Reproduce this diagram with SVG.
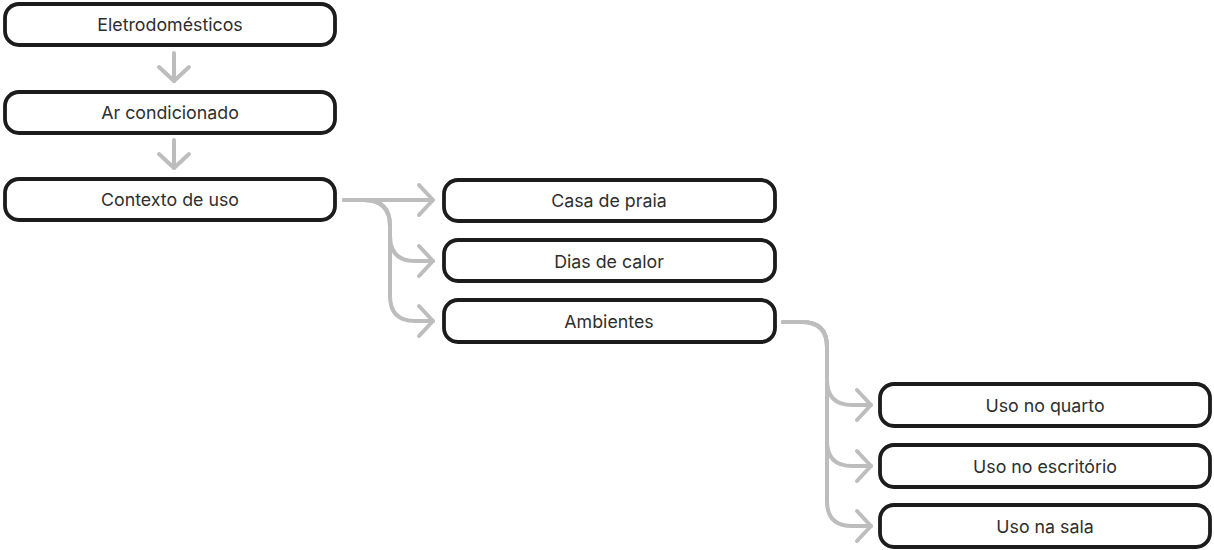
<svg xmlns="http://www.w3.org/2000/svg" width="1214" height="550" viewBox="0 0 1214 550">
<style>
.box{fill:#fff;stroke:#1c1c1c;stroke-width:3.8}
.lbl{font-family:Inter,"Noto Sans","Liberation Sans",sans-serif;font-size:17.8px;fill:#2e2e2e;text-anchor:middle;dominant-baseline:central}
.edge{fill:none;stroke:#bdbdbd;stroke-width:4;stroke-linecap:round;stroke-linejoin:round}
</style>
<defs>
<marker id="chev" viewBox="-20 -20 26 40" markerWidth="26" markerHeight="40" refX="0" refY="0" markerUnits="userSpaceOnUse" orient="auto" overflow="visible">
<path d="M-14 -15 L0 0 L-14 15" fill="none" stroke="#bdbdbd" stroke-width="4" stroke-linecap="round" stroke-linejoin="round"/>
</marker>
</defs>
<g id="connectors">
<path class="edge" d="M174 53 V81" marker-end="url(#chev)"/>
<path class="edge" d="M174 140 V168" marker-end="url(#chev)"/>
<path class="edge" d="M344 200 H433" marker-end="url(#chev)"/>
<path class="edge" d="M344 200 H364 Q390 200 390 226 V236 Q390 261 415 261 H433" marker-end="url(#chev)"/>
<path class="edge" d="M344 200 H364 Q390 200 390 226 V296 Q390 321 415 321 H433" marker-end="url(#chev)"/>
<path class="edge" d="M783 322 H802 Q827 322 827 347 V380 Q827 405 852 405 H871" marker-end="url(#chev)"/>
<path class="edge" d="M783 322 H802 Q827 322 827 347 V441 Q827 466 852 466 H871" marker-end="url(#chev)"/>
<path class="edge" d="M783 322 H802 Q827 322 827 347 V501 Q827 526 852 526 H871" marker-end="url(#chev)"/>
</g>
<g id="n1"><rect class="box" x="5" y="4" width="330" height="41" rx="14"/><text class="lbl" x="170" y="24">Eletrodomésticos</text></g>
<g id="n2"><rect class="box" x="5" y="92" width="330" height="41" rx="14"/><text class="lbl" x="170" y="112">Ar condicionado</text></g>
<g id="n3"><rect class="box" x="5" y="179" width="330" height="41" rx="14"/><text class="lbl" x="170" y="199">Contexto de uso</text></g>
<g id="n4"><rect class="box" x="444" y="180" width="331" height="41" rx="14"/><text class="lbl" x="609" y="200">Casa de praia</text></g>
<g id="n5"><rect class="box" x="444" y="240" width="331" height="41" rx="14"/><text class="lbl" x="609" y="261">Dias de calor</text></g>
<g id="n6"><rect class="box" x="444" y="300" width="331" height="42" rx="14"/><text class="lbl" x="609" y="321">Ambientes</text></g>
<g id="n7"><rect class="box" x="880" y="384" width="330" height="42" rx="14"/><text class="lbl" x="1045" y="405">Uso no quarto</text></g>
<g id="n8"><rect class="box" x="880" y="445" width="330" height="42" rx="14"/><text class="lbl" x="1045" y="466">Uso no escritório</text></g>
<g id="n9"><rect class="box" x="880" y="505" width="330" height="42" rx="14"/><text class="lbl" x="1045" y="526">Uso na sala</text></g>
</svg>
